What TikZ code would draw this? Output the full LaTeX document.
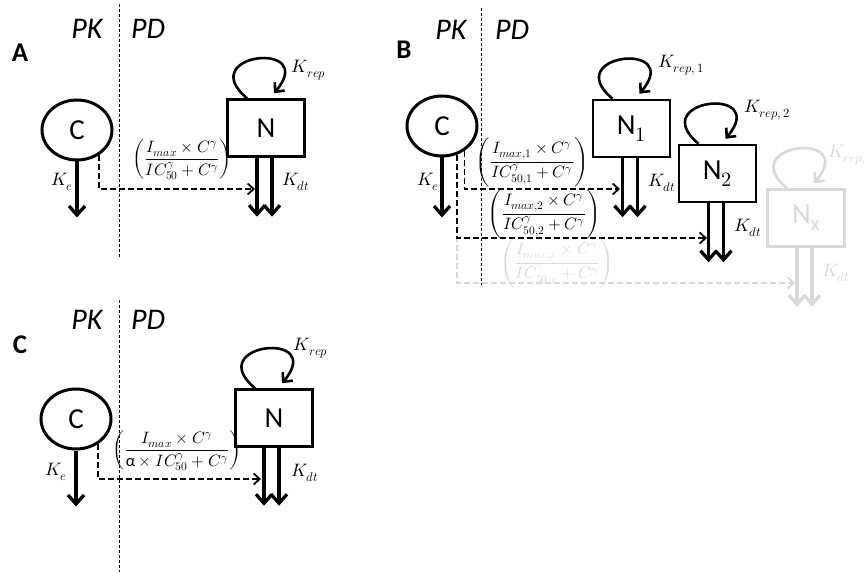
\documentclass[tikz,border=0pt]{standalone}
\usepackage{fontspec}
\usepackage{unicode-math}
\setmainfont{Carlito}
\setmathfont{Latin Modern Math}
\usetikzlibrary{arrows.meta,positioning,shapes.geometric}

\begin{document}
\begin{tikzpicture}[
  x=1pt, y=1pt,
  pool/.style={draw, ellipse, line width=3pt, minimum width=70pt,
    minimum height=60pt, inner sep=0pt, font=\fontsize{29}{32}\selectfont},
  cell/.style={draw, rectangle, line width=2.5pt, minimum width=77pt,
    minimum height=57pt, inner sep=0pt, font=\fontsize{29}{32}\selectfont},
  tag/.style={font=\fontsize{30}{33}\selectfont\itshape},
  panel/.style={font=\fontsize{27}{30}\selectfont\bfseries},
  rate/.style={font=\fontsize{18}{21}\selectfont, inner sep=1pt},
  effect/.style={font=\fontsize{16.5}{19}\selectfont, inner sep=0pt},
  divider/.style={line width=0.8pt, dash pattern=on 3pt off 2pt},
  flow/.style={-{Straight Barb[length=9pt, width=16pt]}, line width=3.3pt},
  drug/.style={-{Straight Barb[length=6pt, width=11pt]}, line width=1.8pt,
    dash pattern=on 6pt off 3pt},
  loopy/.style={-{Straight Barb[length=7pt, width=13pt]}, line width=2.6pt,
    out=140, in=50, distance=70pt},
  faded/.style={color=black!15}
]
\path[use as bounding box, clip] (0,0) rectangle (867,-572);

% panel A
\node[panel] (lblA) at (20,-53) {A};
\node[tag] (pkA) at (87,-29) {PK};
\node[tag] (pdA) at (148,-29) {PD};
\coordinate (topA) at (119,-4);
\coordinate (botA) at (119,-257);
\draw[divider] (topA) -- (botA);
\node[pool] (cA) at (77,-130) {C};
\node[cell] (nA) at (266,-128) {N};
\coordinate[below=56pt of cA.south] (keA);
\coordinate[below=59pt of nA.south, xshift=-9pt] (dtA1);
\coordinate[below=59pt of nA.south, xshift=6pt] (dtA2);
\coordinate (hitA) at (255,-189);
\draw[flow] (cA) -- (keA);
\draw[flow] (nA.south -| dtA1) -- (dtA1);
\draw[flow] (nA.south -| dtA2) -- (dtA2);
\draw[loopy] ([xshift=-19pt]nA.north) to ([xshift=8pt,yshift=5pt]nA.north);
\draw[drug] (cA.-48) |- (hitA);
\node[rate] (keAl) at (62,-182) {$K_e$};
\node[rate] (dtAl) at (296,-182) {$K_{dt}$};
\node[rate] (repAl) at (309,-70) {$K_{rep}$};
\node[effect] (effA) at (182,-160)
  {$\displaystyle\left(\frac{I_{max}\times C^{\gamma}}{IC_{50}^{\gamma}+C^{\gamma}}\right)$};

% panel B
\node[panel] (lblB) at (404,-50) {B};
\node[tag] (pkB) at (451,-30) {PK};
\node[tag] (pdB) at (512,-30) {PD};
\coordinate (topB) at (481,-8);
\coordinate (botB) at (481,-285);
\draw[divider] (topB) -- (botB);
\node[pool] (cB) at (442,-126) {C};
\node[cell] (n1B) at (631.5,-128.5) {N$_1$};
\node[cell] (n2B) at (717.5,-173.5) {N$_2$};
\node[cell, faded] (nxB) at (806,-218) {N$_\mathrm{x}$};
\coordinate[below=60pt of cB.south] (keB);
\coordinate (hitB1) at (620,-189);
\coordinate (hitB2) at (707,-238);
\coordinate (hitBx) at (795,-283);
\draw[flow] (cB) -- (keB);
\foreach \n in {n1B,n2B}{
  \draw[flow] ([xshift=-9pt]\n.south) -- ++(0,-59);
  \draw[flow] ([xshift=6pt]\n.south) -- ++(0,-59);
  \draw[loopy] ([xshift=-19pt]\n.north) to ([xshift=8pt,yshift=5pt]\n.north);
}
\draw[flow, faded] ([xshift=-9pt]nxB.south) -- ++(0,-59);
\draw[flow, faded] ([xshift=6pt]nxB.south) -- ++(0,-59);
\draw[loopy, faded] ([xshift=-19pt]nxB.north) to ([xshift=8pt,yshift=5pt]nxB.north);
\draw[drug, faded] (cB.-62) |- (hitBx);
\draw[drug] (cB.-48) |- (hitB1);
\draw[drug] (cB.-62) |- (hitB2);
\node[rate] (keBl) at (428,-182) {$K_e$};
\node[rate] (dt1Bl) at (662,-183) {$K_{dt}$};
\node[rate] (rep1Bl) at (681,-65) {$K_{rep,\,1}$};
\node[rate] (dt2Bl) at (748,-228) {$K_{dt}$};
\node[rate] (rep2Bl) at (767,-110) {$K_{rep,\,2}$};
\node[rate, faded] (dtxBl) at (836,-273) {$K_{dt}$};
\node[rate, faded, anchor=east] (repxBl) at (867,-155) {$K_{rep,}$};
\node[effect] (eff1B) at (532,-162)
  {$\displaystyle\left(\frac{I_{max,1}\times C^{\gamma}}{IC_{50,1}^{\gamma}+C^{\gamma}}\right)$};
\node[effect] (eff2B) at (544,-214)
  {$\displaystyle\left(\frac{I_{max,2}\times C^{\gamma}}{IC_{50,2}^{\gamma}+C^{\gamma}}\right)$};
\node[effect, faded] (effxB) at (557,-263)
  {$\displaystyle\left(\frac{I_{max,x}\times C^{\gamma}}{IC_{50,x}^{\gamma}+C^{\gamma}}\right)$};

% panel C
\node[panel] (lblC) at (20,-345) {C};
\node[tag] (pkC) at (87,-320) {PK};
\node[tag] (pdC) at (148,-320) {PD};
\coordinate (topC) at (119,-300);
\coordinate (botC) at (119,-572);
\draw[divider] (topC) -- (botC);
\node[pool] (cC) at (76,-419) {C};
\node[cell] (nC) at (274,-418) {N};
\coordinate[below=56pt of cC.south] (keC);
\coordinate[below=58pt of nC.south, xshift=-10pt] (dtC1);
\coordinate[below=58pt of nC.south, xshift=5pt] (dtC2);
\coordinate (hitC) at (261,-479);
\draw[flow] (cC) -- (keC);
\draw[flow] (nC.south -| dtC1) -- (dtC1);
\draw[flow] (nC.south -| dtC2) -- (dtC2);
\draw[loopy] ([xshift=-19pt]nC.north) to ([xshift=8pt,yshift=5pt]nC.north);
\draw[drug] (cC.-48) |- (hitC);
\node[rate] (keCl) at (56,-472) {$K_e$};
\node[rate] (dtCl) at (305,-473) {$K_{dt}$};
\node[rate] (repCl) at (311,-348) {$K_{rep}$};
\node[effect] (effC) at (177,-451)
  {$\displaystyle\left(\frac{I_{max}\times C^{\gamma}}{\mbox{α}\times IC_{50}^{\gamma}+C^{\gamma}}\right)$};
\end{tikzpicture}
\end{document}
